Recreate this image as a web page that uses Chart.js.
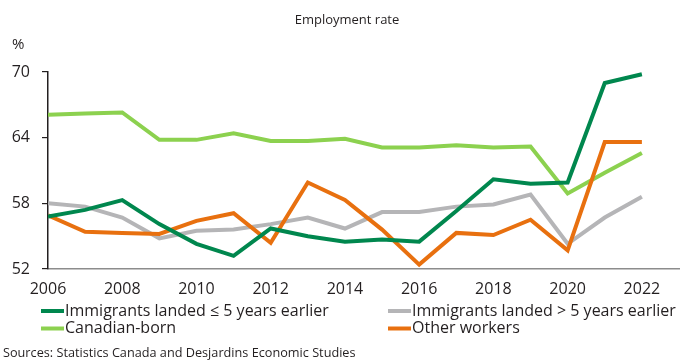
<!DOCTYPE html>
<html>
<head>
<meta charset="utf-8">
<script src="https://cdn.jsdelivr.net/npm/chart.js@4/dist/chart.umd.min.js"></script>
<style>
  html, body { margin: 0; padding: 0; background: #fff; }
  #wrap { position: relative; width: 691px; height: 361px; }
</style>
</head>
<body>
<div id="wrap"><canvas id="chart" width="691" height="361"></canvas></div>
<script>
/* ===== data ===== */
const years = [2006, 2007, 2008, 2009, 2010, 2011, 2012, 2013, 2014, 2015, 2016, 2017, 2018, 2019, 2020, 2021, 2022];
const recentImmigrants = [56.8, 57.4, 58.3, 56.1, 54.3, 53.2, 55.7, 55.0, 54.5, 54.7, 54.5, 57.3, 60.2, 59.8, 59.9, 69.0, 69.8];
const olderImmigrants  = [58.0, 57.7, 56.7, 54.8, 55.5, 55.6, 56.1, 56.7, 55.7, 57.2, 57.2, 57.7, 57.9, 58.8, 54.3, 56.7, 58.6];
const canadianBorn     = [66.1, 66.2, 66.3, 63.8, 63.8, 64.4, 63.7, 63.7, 63.9, 63.1, 63.1, 63.3, 63.1, 63.2, 58.9, 60.8, 62.6];
const otherWorkers     = [56.9, 55.4, 55.3, 55.2, 56.4, 57.1, 54.4, 59.9, 58.3, 55.6, 52.4, 55.3, 55.1, 56.5, 53.7, 63.6, 63.6];
const xTicks = [2006, 2008, 2010, 2012, 2014, 2016, 2018, 2020, 2022];
const yTicks = [52, 58, 64, 70];

const FONT = "'Open Sans', 'Noto Sans', sans-serif";
const TEXT = "#231f20";

const series = [
  { label: "Immigrants landed \u2264 5 years earlier", data: recentImmigrants, color: "#00874e", order: 1 },
  { label: "Immigrants landed > 5 years earlier", data: olderImmigrants, color: "#b5b5b7", order: 4 },
  { label: "Canadian-born", data: canadianBorn, color: "#8cd14f", order: 3 },
  { label: "Other workers", data: otherWorkers, color: "#e8700f", order: 2 }
];

/* ===== extra text: subtitle, unit, legend, source ===== */
const decorations = {
  id: "decorations",
  afterDraw(chart) {
    const ctx = chart.ctx;
    ctx.save();
    ctx.fillStyle = TEXT;
    ctx.textBaseline = "middle";

    ctx.font = "13px " + FONT;
    ctx.textAlign = "center";
    ctx.fillText("Employment rate", 347, 20);

    ctx.font = "15px " + FONT;
    ctx.textAlign = "left";
    ctx.fillText("%", 12, 45);

    // legend, two columns
    const cols = [41, 388];
    const rows = [311, 328.5];
    ctx.font = "16px " + FONT;
    series.forEach((s, i) => {
      const x = cols[i % 2], y = rows[Math.floor(i / 2)];
      ctx.strokeStyle = s.color;
      ctx.lineWidth = 4;
      ctx.beginPath();
      ctx.moveTo(x, y);
      ctx.lineTo(x + 23, y);
      ctx.stroke();
      ctx.fillStyle = TEXT;
      ctx.fillText(s.label, x + 24, y);
    });

    ctx.font = "12.7px " + FONT;
    ctx.fillText("Sources: Statistics Canada and Desjardins Economic Studies", 3, 353);
    ctx.restore();
  }
};

new Chart(document.getElementById("chart"), {
  type: "line",
  data: {
    datasets: series.map(s => ({
      label: s.label,
      data: years.map((y, i) => ({ x: y, y: s.data[i] })),
      borderColor: s.color,
      backgroundColor: s.color,
      borderWidth: 4,
      pointRadius: 0,
      tension: 0,
      order: s.order
    }))
  },
  options: {
    responsive: false,
    animation: false,
    layout: { padding: { left: 0, right: 12, top: 72, bottom: 0 } },
    plugins: { legend: { display: false }, tooltip: { enabled: false } },
    scales: {
      x: {
        type: "linear",
        min: 2006,
        max: 2023,
        afterBuildTicks: axis => { axis.ticks = xTicks.map(v => ({ value: v })); },
        afterFit: axis => { axis.height = 92; },
        grid: { display: false },
        border: { color: "#8c8c8c", width: 1.5 },
        ticks: {
          font: { family: FONT, size: 16 },
          color: TEXT,
          padding: 3,
          maxRotation: 0,
          callback: v => String(v)
        }
      },
      y: {
        min: 52,
        max: 70,
        afterBuildTicks: axis => { axis.ticks = yTicks.map(v => ({ value: v })); },
        afterFit: axis => { axis.width = 48; },
        grid: { drawOnChartArea: false, drawTicks: true, tickLength: 6, color: "#231f20", lineWidth: 1.2 },
        border: { color: "#231f20", width: 1.5 },
        ticks: {
          font: { family: FONT, size: 16 },
          color: TEXT,
          padding: 12
        }
      }
    }
  },
  plugins: [decorations]
});
</script>
</body>
</html>
